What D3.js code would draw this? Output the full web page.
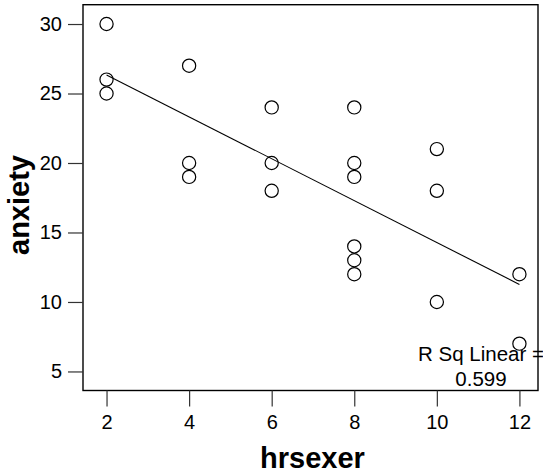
<!DOCTYPE html>
<html>
<head>
<meta charset="utf-8">
<script src="https://cdn.jsdelivr.net/npm/d3@7"></script>
<style>
  html, body { margin: 0; padding: 0; background: #fff; }
  svg { display: block; }
  text { font-family: "Liberation Sans", Arial, sans-serif; fill: #000; }
</style>
</head>
<body>
<svg id="chart" width="543" height="475"></svg>
<script>
// Hours of exercise per week vs. anxiety score
const hrsexer = [2, 2, 2, 4, 4, 4, 6, 6, 6, 8, 8, 8, 8, 8, 8, 10, 10, 10, 12, 12];
const anxiety = [30, 26, 25, 27, 20, 19, 24, 20, 18, 24, 20, 19, 14, 13, 12, 21, 18, 10, 12, 7];
const xTicks = [2, 4, 6, 8, 10, 12];
const yTicks = [5, 10, 15, 20, 25, 30];
const rSqLabel = ["R Sq Linear =", "0.599"];

const svg = d3.select("#chart");
const box = { left: 83, right: 538, top: 4.7, bottom: 390.5 };

const x = d3.scaleLinear().domain([1.43, 12.45]).range([box.left, box.right]);
const y = d3.scaleLinear().domain([3.63, 31.39]).range([box.bottom, box.top]);

// Least-squares fit of anxiety on hrsexer
const n = hrsexer.length;
const mx = d3.mean(hrsexer), my = d3.mean(anxiety);
let sxy = 0, sxx = 0;
for (let i = 0; i < n; i++) {
  sxy += (hrsexer[i] - mx) * (anxiety[i] - my);
  sxx += (hrsexer[i] - mx) ** 2;
}
const slope = sxy / sxx, intercept = my - slope * mx;
const [xMin, xMax] = d3.extent(hrsexer);

// Plot frame
svg.append("rect")
  .attr("x", box.left).attr("y", box.top)
  .attr("width", box.right - box.left).attr("height", box.bottom - box.top)
  .attr("fill", "none").attr("stroke", "#000").attr("stroke-width", 1.4);

// Axes
const xAxis = svg.append("g")
  .attr("transform", `translate(0,${box.bottom})`)
  .call(d3.axisBottom(x).tickValues(xTicks).tickSize(16).tickPadding(8).tickFormat(d3.format("d")));
const yAxis = svg.append("g")
  .attr("transform", `translate(${box.left},0)`)
  .call(d3.axisLeft(y).tickValues(yTicks).tickSize(15).tickPadding(6).tickFormat(d3.format("d")));
[xAxis, yAxis].forEach(g => {
  g.select(".domain").remove();
  g.selectAll(".tick line").attr("stroke", "#333").attr("stroke-width", 1.2);
  g.selectAll(".tick text")
    .attr("font-family", "'Liberation Sans', Arial, sans-serif")
    .attr("font-size", 20).attr("fill", "#000");
});

// Regression line
svg.append("line")
  .attr("x1", x(xMin)).attr("y1", y(intercept + slope * xMin))
  .attr("x2", x(xMax)).attr("y2", y(intercept + slope * xMax))
  .attr("stroke", "#000").attr("stroke-width", 1.1);

// Points
svg.append("g").selectAll("circle")
  .data(hrsexer.map((h, i) => ({ h, a: anxiety[i] })))
  .join("circle")
  .attr("cx", d => x(d.h)).attr("cy", d => y(d.a))
  .attr("r", 6.6)
  .attr("fill", "none").attr("stroke", "#000").attr("stroke-width", 1.2);

// Fit annotation
const rsq = svg.append("text")
  .attr("x", 481).attr("y", 361)
  .attr("text-anchor", "middle").attr("font-size", 20.5);
rsq.append("tspan").attr("x", 481).attr("y", 361).text(rSqLabel[0]);
rsq.append("tspan").attr("x", 481).attr("y", 386).text(rSqLabel[1]);

// Axis titles
svg.append("text")
  .attr("x", (box.left + box.right) / 2 + 2).attr("y", 468)
  .attr("text-anchor", "middle").attr("font-size", 29).attr("font-weight", "bold")
  .text("hrsexer");
svg.append("text")
  .attr("transform", "translate(29,205) rotate(-90)")
  .attr("text-anchor", "middle").attr("font-size", 29).attr("font-weight", "bold")
  .text("anxiety");
</script>
</body>
</html>
